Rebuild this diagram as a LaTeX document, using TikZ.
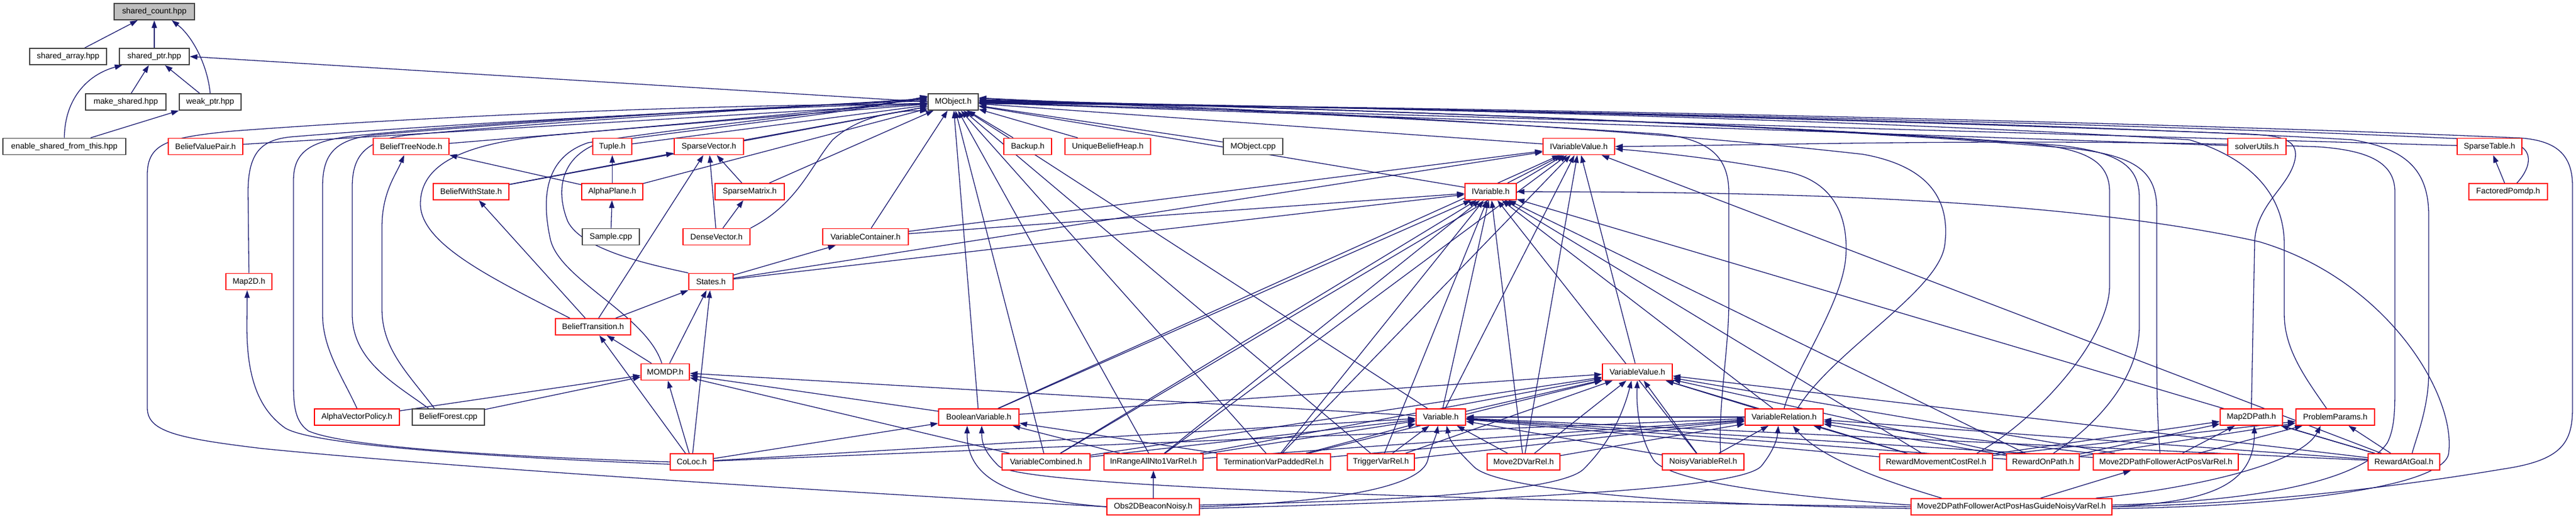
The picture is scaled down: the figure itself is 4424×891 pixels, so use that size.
\documentclass[tikz,border=0pt]{standalone}
\usepackage{fontspec}
\setmainfont{Liberation Sans}
\usetikzlibrary{arrows.meta}
\pgfdeclarelayer{edgelayer}
\pgfsetlayers{edgelayer,main}
\definecolor{navyc}{HTML}{191970}
\begin{document}
\begin{tikzpicture}[x=1pt,y=-1pt,
  nb/.style={draw, line width=1.8pt, fill=white, inner sep=0pt, minimum height=28pt, font=\fontsize{13.8}{16}\selectfont},
  rn/.style={nb, draw=red},
  bn/.style={nb, draw=black!75},
  gn/.style={nb, draw=black!75, fill=black!25},
  edg/.style={draw=navyc, line width=1.3pt, -{Triangle[length=13pt,width=9pt]}}]
\useasboundingbox (0,0) rectangle (4424,891);
% row 0-2
\node[gn, minimum width=138pt] (sc) at (265,20) {shared\_count.hpp};
\node[bn, minimum width=132pt] (sa) at (117,97) {shared\_array.hpp};
\node[bn, minimum width=120pt] (sp) at (265,97) {shared\_ptr.hpp};
\node[bn, minimum width=138pt] (ms) at (216,175) {make\_shared.hpp};
\node[bn, minimum width=106pt] (wp) at (361,175) {weak\_ptr.hpp};
\node[bn, minimum width=86pt] (mo) at (1637,175) {MObject.h};
% row 3
\node[bn, minimum width=211pt] (es) at (110.5,251.5) {enable\_shared\_from\_this.hpp};
\node[rn, minimum width=128pt] (bvp) at (353,251.5) {BeliefValuePair.h};
\node[rn, minimum width=130pt] (btn) at (706,251.5) {BeliefTreeNode.h};
\node[rn, minimum width=67pt] (tup) at (1051.5,251.5) {Tuple.h};
\node[rn, minimum width=119pt] (sv) at (1217.5,251.5) {SparseVector.h};
\node[rn, minimum width=82pt] (bk) at (1765,251.5) {Backup.h};
\node[rn, minimum width=147pt] (ubh) at (1902.5,251.5) {UniqueBeliefHeap.h};
\node[bn, minimum width=102pt] (moc) at (2152,251.5) {MObject.cpp};
\node[rn, minimum width=123pt] (ivv) at (2711.5,251.5) {IVariableValue.h};
\node[rn, minimum width=100pt] (su) at (3876,251.5) {solverUtils.h};
\node[rn, minimum width=111pt] (st) at (4275.5,251.5) {SparseTable.h};
% row 4
\node[rn, minimum width=130pt] (bws) at (809,329) {BeliefWithState.h};
\node[rn, minimum width=105pt] (ap) at (1051.5,329) {AlphaPlane.h};
\node[rn, minimum width=119pt] (sm) at (1287.5,329) {SparseMatrix.h};
\node[rn, minimum width=88pt] (iv) at (2560,329) {IVariable.h};
\node[rn, minimum width=135pt] (fp) at (4307.5,329) {FactoredPomdp.h};
% row 5
\node[bn, minimum width=98pt] (smp) at (1049,406.5) {Sample.cpp};
\node[rn, minimum width=115pt] (dv) at (1230.5,406.5) {DenseVector.h};
\node[rn, minimum width=147pt] (vc) at (1486.5,406.5) {VariableContainer.h};
% row 6-8
\node[rn, minimum width=79pt] (m2d) at (427.5,483.5) {Map2D.h};
\node[rn, minimum width=76pt] (sts) at (1221,483.5) {States.h};
\node[rn, minimum width=129pt] (bt) at (1018.5,561) {BeliefTransition.h};
\node[rn, minimum width=83pt] (mom) at (1142.5,638.5) {MOMDP.h};
\node[rn, minimum width=120pt] (vv) at (2812,638.5) {VariableValue.h};
% row 9
\node[rn, minimum width=146pt] (avp) at (613,716) {AlphaVectorPolicy.h};
\node[bn, minimum width=124pt] (bf) at (770,716) {BeliefForest.cpp};
\node[rn, minimum width=138pt] (bv) at (1681,716) {BooleanVariable.h};
\node[rn, minimum width=85pt] (var) at (2474.5,716) {Variable.h};
\node[rn, minimum width=134pt] (vr) at (3064,716) {VariableRelation.h};
\node[rn, minimum width=107pt] (m2p) at (3866.5,716) {Map2DPath.h};
\node[rn, minimum width=135pt] (pp) at (4010.5,716) {ProblemParams.h};
% row 10
\node[rn, minimum width=74pt] (col) at (1188,793) {CoLoc.h};
\node[rn, minimum width=151pt] (vcb) at (1796.5,793) {VariableCombined.h};
\node[rn, minimum width=170pt] (inr) at (1981,793) {InRangeAllNto1VarRel.h};
\node[rn, minimum width=195pt] (tvp) at (2187.5,793) {TerminationVarPaddedRel.h};
\node[rn, minimum width=115pt] (tvr) at (2371.5,793) {TriggerVarRel.h};
\node[rn, minimum width=125pt] (m2v) at (2616.5,793) {Move2DVarRel.h};
\node[rn, minimum width=140pt] (nvr) at (2925,793) {NoisyVariableRel.h};
\node[rn, minimum width=194pt] (rmc) at (3325,793) {RewardMovementCostRel.h};
\node[rn, minimum width=125pt] (rop) at (3508.5,793) {RewardOnPath.h};
\node[rn, minimum width=249pt] (mpf) at (3719.5,793) {Move2DPathFollowerActPosVarRel.h};
\node[rn, minimum width=123pt] (rag) at (4128.5,793) {RewardAtGoal.h};
% row 11
\node[rn, minimum width=159pt] (obs) at (1980.5,870) {Obs2DBeaconNoisy.h};
\node[rn, minimum width=345pt] (mpg) at (3454.5,870) {Move2DPathFollowerActPosHasGuideNoisyVarRel.h};

\begin{pgfonlayer}{edgelayer}
\foreach \a/\b in {sa/sc, sp/sc, ms/sp, wp/sp,
  bvp/mo, btn/mo, tup/mo, sv/mo, bk/mo, ubh/mo, moc/mo, ivv/mo, su/mo, st/mo, bws/mo, ap/mo, sm/mo, iv/mo, vc/mo, var/mo, bv/mo, vcb/mo, inr/mo, tvp/mo, tvr/mo,
  ap/btn, ap/tup, bws/sv, bt/sv, dv/sv, sm/sv, dv/sm, smp/ap, bt/bws, fp/st, sts/vc, bt/sts, mom/sts, col/sts, mom/bt, col/bt, col/mom, avp/mom, bf/mom, bv/mom, var/mom, vcb/mom,
  iv/ivv, vc/ivv, vc/iv, sts/ivv, sts/iv, vv/ivv, bv/ivv, bv/iv, bv/vv, var/ivv, var/iv, var/vv, vr/iv, vr/vv, vr/var, col/bv, col/var, col/vr,
  vcb/iv, vcb/ivv, vcb/var, vcb/vv,
  inr/bv, inr/var, inr/vv, inr/vr, inr/iv, inr/ivv,
  tvp/bv, tvp/var, tvp/vv, tvp/vr, tvp/iv, tvp/ivv,
  tvr/var, tvr/vv, tvr/vr, tvr/iv,
  m2v/var, m2v/vv, m2v/vr, m2v/iv, m2v/ivv,
  nvr/var, nvr/vv, nvr/vr, nvr/iv,
  rmc/var, rmc/vv, rmc/vr, rmc/iv, rmc/pp, rmc/m2p,
  rop/var, rop/vv, rop/vr, rop/iv, rop/pp, rop/m2p,
  mpf/var, mpf/vv, mpf/vr, mpf/m2p, mpf/pp,
  rag/var, rag/vv, rag/vr, rag/iv, rag/ivv, rag/m2p, rag/pp,
  obs/inr}
  \draw[edg] (\a) -- (\b);
% top cluster curves
\draw[edg] (wp.north) .. controls (356,110) and (330,62) .. ([xshift=30pt]sc.south);
\draw[edg] (es.north) .. controls (111,170) and (150,128) .. ([xshift=6pt]sp.south west);
\draw[edg] ([xshift=45pt]es.north) -- (wp.south west);
\draw[edg] (mo.west) -- (sp.east);
% left curves into MObject
\draw[edg] (obs.west) .. controls (1500,848) and (800,805) .. (450,770) .. controls (300,752) and (253,740) .. (253,700) -- (253,300) .. controls (253,245) and (290,236) .. (400,225) .. controls (800,195) and (1300,178) .. ([yshift=-4pt]mo.west);
\draw[edg] (col.west) .. controls (900,785) and (600,770) .. (530,740) .. controls (508,725) and (504,700) .. (504,660) -- (504,310) .. controls (504,255) and (540,240) .. (620,232) .. controls (900,205) and (1300,185) .. ([yshift=2pt]mo.west);
\draw[edg] ([yshift=-4pt]col.west) .. controls (850,785) and (540,765) .. (490,735) .. controls (440,700) and (424,640) .. (424,560) -- ([xshift=-3pt]m2d.south);
\draw[edg] (m2d.north) -- (426,330) .. controls (426,260) and (450,240) .. (500,235) .. controls (800,210) and (1300,185) .. ([yshift=-2pt]mo.west);
\draw[edg] (avp.north) .. controls (590,650) and (554,600) .. (554,540) -- (554,320) .. controls (554,265) and (575,240) .. (640,232) .. controls (950,205) and (1300,185) .. ([yshift=4pt]mo.west);
\draw[edg] ([xshift=-34pt]bf.north) .. controls (680,660) and (605,620) .. (605,540) -- (605,320) .. controls (605,265) and (630,240) .. (700,232) .. controls (1000,205) and (1300,188) .. ([yshift=6pt]mo.west);
\draw[edg] ([xshift=-24pt]bf.north) .. controls (700,640) and (656,600) .. (656,530) -- (656,390) .. controls (656,330) and (680,300) .. ([xshift=-12pt]btn.south);
\draw[edg] ([xshift=-40pt]bt.north) .. controls (850,480) and (722,420) .. (722,350) .. controls (722,280) and (800,245) .. (950,232) .. controls (1250,205) and (1450,190) .. ([yshift=8pt]mo.west);
\draw[edg] ([xshift=-6pt]mom.north) .. controls (1110,540) and (960,480) .. (945,410) .. controls (930,340) and (935,270) .. (1010,245) .. controls (1200,215) and (1450,192) .. ([yshift=9pt]mo.west);
\draw[edg] (sts.north west) .. controls (1120,455) and (1000,430) .. (975,380) .. controls (955,330) and (960,270) .. (1030,245) .. controls (1250,215) and (1450,195) .. ([yshift=10pt]mo.west);
\draw[edg] (dv.north east) .. controls (1370,350) and (1392,285) .. (1430,240) .. controls (1480,195) and (1550,190) .. (mo.south west);
% right curves into MObject
\draw[edg] (mpg.east) .. controls (3900,865) and (4150,830) .. (4300,805) .. controls (4400,790) and (4418,760) .. (4418,700) -- (4418,320) .. controls (4418,265) and (4390,242) .. (4330,237) .. controls (3600,205) and (2300,180) .. ([yshift=-3pt]mo.east);
\draw[edg] ([xshift=14pt]rag.north) .. controls (4150,750) and (4171,700) .. (4171,640) -- (4171,370) .. controls (4171,290) and (4130,255) .. (4040,240) .. controls (3500,208) and (2300,182) .. ([yshift=-1pt]mo.east);
\draw[edg] ([xshift=-15pt]pp.north) .. controls (3960,650) and (3923,600) .. (3923,540) -- (3923,420) .. controls (3923,330) and (3860,270) .. (3760,240) .. controls (3200,205) and (2300,182) .. (mo.east);
\draw[edg] (m2p.north) -- (3872,420) .. controls (3872,350) and (3935,320) .. (3942,270) .. controls (3945,240) and (3920,233) .. (3860,230) .. controls (3200,205) and (2300,182) .. ([yshift=1pt]mo.east);
\draw[edg] ([xshift=-10pt]mpf.north) .. controls (3705,720) and (3704,670) .. (3704,600) -- (3704,360) .. controls (3704,295) and (3670,268) .. (3560,255) .. controls (3100,215) and (2300,185) .. ([yshift=2pt]mo.east);
\draw[edg] ([xshift=18pt]rop.north) .. controls (3600,730) and (3674,650) .. (3674,560) -- (3674,340) .. controls (3674,285) and (3640,262) .. (3540,250) .. controls (3100,215) and (2300,186) .. ([yshift=3pt]mo.east);
\draw[edg] ([xshift=70pt]rmc.north) .. controls (3500,720) and (3623,580) .. (3623,490) -- (3623,330) .. controls (3623,275) and (3580,255) .. (3480,246) .. controls (3000,212) and (2300,186) .. ([yshift=4pt]mo.east);
\draw[edg] ([xshift=23pt]vr.north) .. controls (3150,600) and (3330,500) .. (3340,420) .. controls (3350,340) and (3310,285) .. (3200,265) .. controls (2850,225) and (2300,192) .. ([yshift=6pt]mo.east);
\draw[edg] (vr.north) .. controls (3080,640) and (3165,520) .. (3170,440) .. controls (3175,360) and (3140,310) .. (3070,295) .. controls (2950,272) and (2850,262) .. ([yshift=-4pt]ivv.east);
\draw[edg] ([xshift=30pt]nvr.north) .. controls (2950,700) and (2969,600) .. (2969,520) -- (2969,330) .. controls (2969,265) and (2930,238) .. (2850,230) .. controls (2400,200) and (2000,185) .. ([yshift=7pt]mo.east);
\draw[edg] ([xshift=15pt]fp.north) .. controls (4345,290) and (4360,250) .. (4300,242) .. controls (3700,210) and (2300,182) .. ([yshift=-2pt]mo.east);
\draw[edg] ([yshift=3pt]mpg.east) .. controls (3900,860) and (4060,820) .. (4100,760) .. controls (4113,735) and (4113,700) .. (4113,660) -- (4113,330) .. controls (4113,280) and (4070,258) .. (3980,252) .. controls (3500,235) and (3000,250) .. (ivv.east);
\draw[edg] ([yshift=-3pt]mpg.east) .. controls (3900,870) and (4190,840) .. (4205,780) .. controls (4220,680) and (4100,480) .. (3880,415) .. controls (3500,330) and (2900,330) .. (iv.east);
% bottom curves
\draw[edg] (obs.west) .. controls (1750,858) and (1660,830) .. ([xshift=-20pt]bv.south);
\draw[edg] (mpg.west) .. controls (2700,862) and (1760,840) .. (1715,800) .. controls (1690,775) and (1686,760) .. ([xshift=5pt]bv.south);
\draw[edg] (obs.east) .. controls (2300,862) and (2440,835) .. (2452,790) .. controls (2458,765) and (2466,750) .. ([xshift=-5pt]var.south);
\draw[edg] ([yshift=-3pt]mpg.west) .. controls (2800,865) and (2560,835) .. (2530,800) .. controls (2505,775) and (2490,760) .. ([xshift=10pt]var.south);
\draw[edg] ([yshift=3pt]mpg.west) .. controls (3100,855) and (2870,830) .. (2840,790) .. controls (2815,750) and (2810,700) .. (vv.south);
\draw[edg] ([yshift=3pt]obs.east) .. controls (2400,860) and (2680,845) .. (2720,805) .. controls (2770,755) and (2790,700) .. ([xshift=-10pt]vv.south);
\draw[edg] ([yshift=-3pt]obs.east) .. controls (2600,858) and (2990,840) .. (3025,800) .. controls (3045,775) and (3052,755) .. ([xshift=-10pt]vr.south);
\draw[edg] ([xshift=-120pt]mpg.north) .. controls (3250,830) and (3130,790) .. ([xshift=15pt]vr.south);
\draw[edg] ([xshift=50pt]mpg.north) -- ([xshift=-60pt]mpf.south);
\draw[edg] (mpg.east) .. controls (3780,862) and (3872,840) .. ([xshift=5pt]m2p.south);
\draw[edg] ([xshift=145pt]mpg.north) .. controls (3750,840) and (3950,800) .. ([xshift=-25pt]pp.south);
\end{pgfonlayer}
\end{tikzpicture}
\end{document}
